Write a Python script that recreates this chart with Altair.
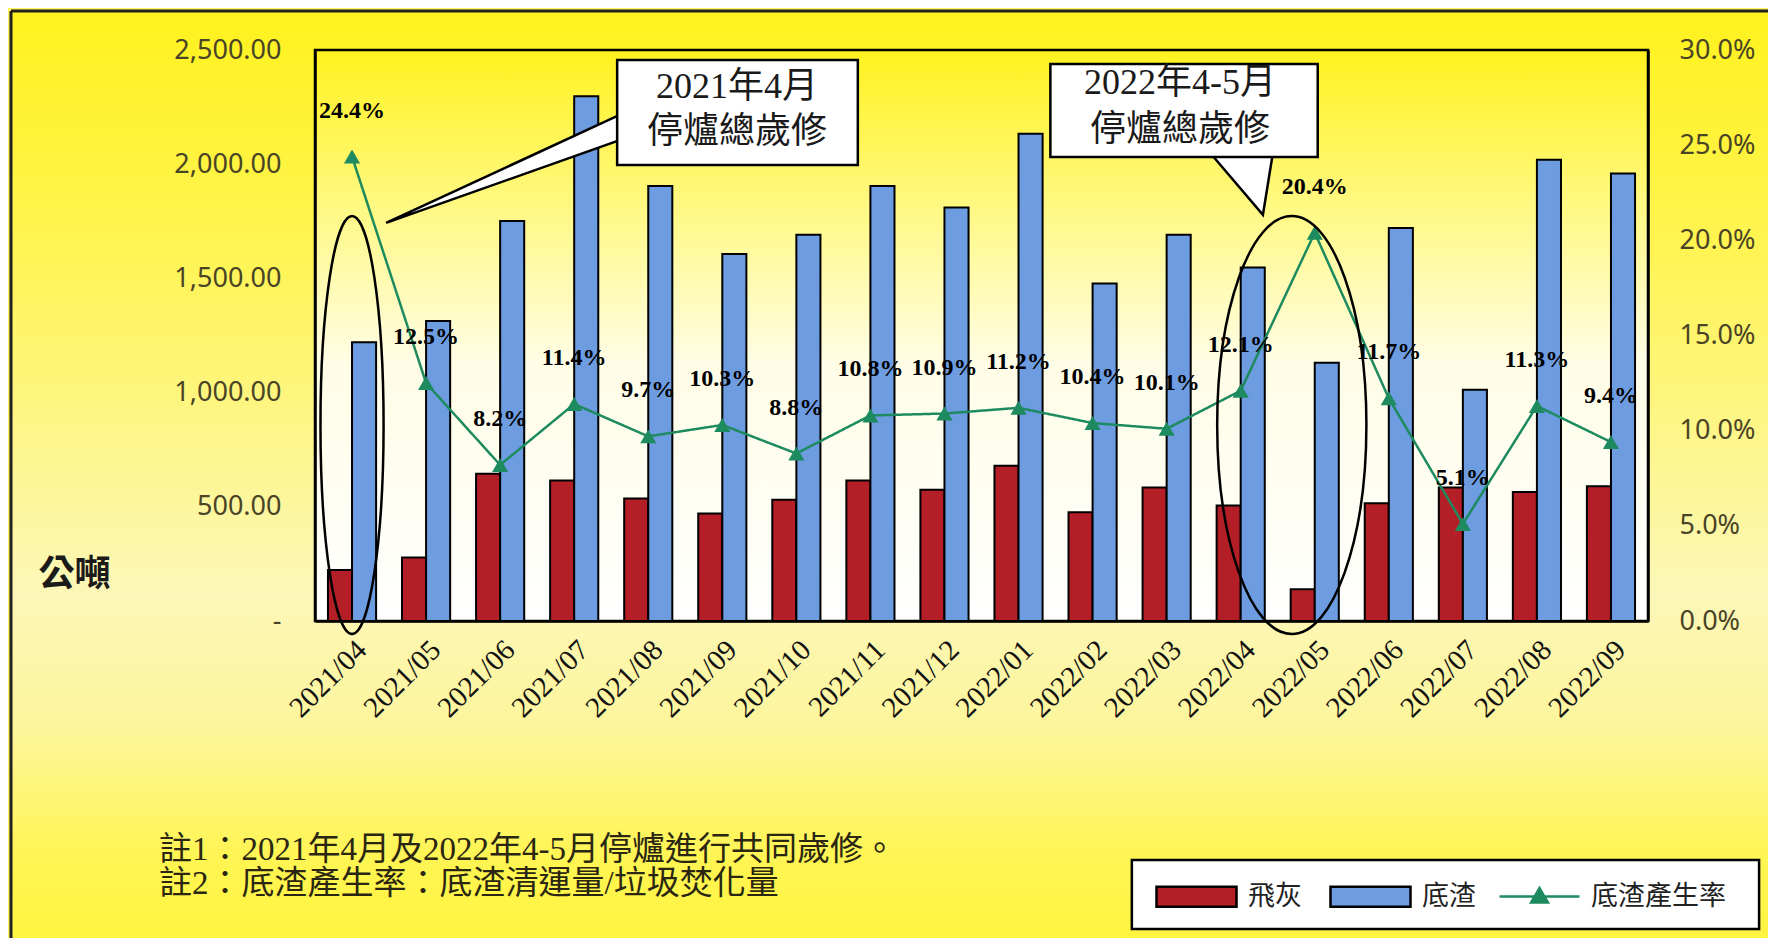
import altair as alt
import pandas as pd

# ---------------- data ----------------
months = ["2021/04", "2021/05", "2021/06", "2021/07", "2021/08", "2021/09",
          "2021/10", "2021/11", "2021/12", "2022/01", "2022/02", "2022/03",
          "2022/04", "2022/05", "2022/06", "2022/07", "2022/08", "2022/09"]
fly_ash = [223, 278, 645, 615, 536, 471, 531, 615, 575, 680, 476, 585,
           506, 139, 516, 585, 565, 590]
bottom_ash = [1220, 1314, 1751, 2297, 1905, 1607, 1691, 1905, 1810, 2133, 1478, 1691,
              1548, 1131, 1721, 1012, 2019, 1959]
rate = [24.4, 12.5, 8.2, 11.4, 9.7, 10.3, 8.8, 10.8, 10.9, 11.2, 10.4, 10.1,
        12.1, 20.4, 11.7, 5.1, 11.3, 9.4]

series_names = ["飛灰", "底渣"]
rate_name = "底渣產生率"
left_ticks = [0, 500, 1000, 1500, 2000, 2500]
right_ticks = [0, 5, 10, 15, 20, 25, 30]
y_title = "公噸"
callout_lines = ["2021年4月", "停爐總歲修", "2022年4-5月", "停爐總歲修"]
notes = ["註1：2021年4月及2022年4-5月停爐進行共同歲修。",
         "註2：底渣產生率：底渣清運量/垃圾焚化量"]

# ---------------- style ----------------
RED, BLUE, GREEN = "#b41f27", "#6d9ce0", "#1d8a5f"
W, H = 1333, 571
SERIF_CJK = "Liberation Serif, Noto Sans CJK TC"
AXIS_TXT = "#4a4426"
RECT_SYM = "M-2,-0.5H2V0.5H-2Z"
LINE_SYM = "M-2,0H2M0,-0.42L0.42,0.3L-0.42,0.3Z"

bars_df = pd.DataFrame({
    "month": months * 2,
    "series": [series_names[0]] * len(months) + [series_names[1]] * len(months),
    "value": fly_ash + bottom_ash,
})
rate_df = pd.DataFrame({"month": months, "rate": rate, "series": [rate_name] * len(months)})

x_enc = alt.X(
    "month:N", sort=months,
    scale=alt.Scale(paddingInner=0.35, paddingOuter=0.175),
    axis=alt.Axis(title=None, labelAngle=-45, labelFont="Liberation Serif",
                  labelFontSize=29, labelColor="#111111", labelPadding=14,
                  ticks=False, domainColor="black", domainWidth=2.5,
                  labelOverlap=False, zindex=1),
)

legend_common = dict(
    title=None, orient="none", legendY=810, direction="horizontal",
    symbolSize=1600, symbolStrokeWidth=2.5, symbolOffset=28, labelOffset=30,
    labelFont="Noto Sans CJK TC", labelFontSize=27, labelColor="#222222",
    columnPadding=19, padding=15,
)


def build(split_legend):
    if split_legend:
        color_scale = alt.Scale(domain=series_names, range=[RED, BLUE])
        bar_legend = alt.Legend(legendX=817, symbolType=RECT_SYM, symbolStrokeColor="black",
                                **legend_common)
    else:
        color_scale = alt.Scale(domain=series_names + [rate_name], range=[RED, BLUE, GREEN])
        bar_legend = alt.Legend(legendX=817, symbolType=RECT_SYM, **legend_common)

    bars = alt.Chart(bars_df).mark_bar(stroke="black", strokeWidth=2).encode(
        x=x_enc,
        xOffset=alt.XOffset("series:N", sort=series_names,
                            scale=alt.Scale(domain=series_names, paddingInner=0, paddingOuter=0)),
        y=alt.Y("value:Q", scale=alt.Scale(domain=[0, 2500], nice=False),
                axis=alt.Axis(orient="left", values=left_ticks,
                              labelExpr="datum.value == 0 ? '-\u00a0\u00a0\u00a0' : format(datum.value, ',.2f')",
                              labelFont="Noto Sans", labelFontSize=27, labelColor=AXIS_TXT,
                              labelPadding=34, ticks=False, grid=False,
                              domainColor="black", domainWidth=2.5, zindex=1,
                              title=y_title, titleAngle=0, titleX=-241, titleY=524,
                              titleFont="Noto Sans CJK TC", titleFontSize=36,
                              titleFontWeight="bold", titleColor="#1a1a1a",
                              titleAlign="center", titleBaseline="middle")),
        color=alt.Color("series:N", scale=color_scale, legend=bar_legend),
    )

    rate_base = alt.Chart(rate_df).encode(
        x=x_enc,
        y=alt.Y("rate:Q", scale=alt.Scale(domain=[0, 30], nice=False),
                axis=alt.Axis(orient="right", values=right_ticks,
                              labelExpr="format(datum.value / 100, '.1%')",
                              labelFont="Noto Sans", labelFontSize=27, labelColor=AXIS_TXT,
                              labelPadding=31, ticks=False, grid=False, zindex=1,
                              domainColor="black", domainWidth=2.5, title=None)),
    )
    if split_legend:
        line = rate_base.mark_line(strokeWidth=2.5, color=GREEN).encode(
            strokeDash=alt.StrokeDash(
                "series:N",
                scale=alt.Scale(domain=[rate_name], range=[[1, 0]]),
                legend=alt.Legend(legendX=1160, symbolType=LINE_SYM,
                                  symbolStrokeColor=GREEN, symbolFillColor=GREEN,
                                  **legend_common)))
        pts = rate_base.mark_point(shape="triangle-up", filled=True, size=260, opacity=1,
                                   color=GREEN)
    else:
        line = rate_base.mark_line(strokeWidth=2.5).encode(color=alt.Color("series:N"))
        pts = rate_base.mark_point(shape="triangle-up", filled=True, size=260, opacity=1).encode(
            color=alt.Color("series:N"))
    lbls = rate_base.transform_calculate(
        label="format(datum.rate, '.1f') + '%'"
    ).mark_text(dy=-46, font="Liberation Serif", fontSize=24, fontWeight="bold",
                color="black").encode(text="label:N")

    main = alt.layer(bars, alt.layer(line, pts, lbls)).resolve_scale(y="independent")

    # ---------- annotation layers (data units: x = band index 0..18, y = tonnes) ----------
    ux = alt.Scale(domain=[0, 18], nice=False, zero=False)
    uy = alt.Scale(domain=[0, 2500], nice=False, zero=False)

    def X(f):
        return alt.X(f, type="quantitative", scale=ux, axis=None)

    def Y(f):
        return alt.Y(f, type="quantitative", scale=uy, axis=None)

    bg_grad = {"gradient": "linear", "x1": 0, "y1": 0, "x2": 0, "y2": 1, "stops": [
        {"offset": 0.0, "color": "#fff21e"},
        {"offset": 0.25, "color": "#fff452"},
        {"offset": 0.62, "color": "#fcf7b8"},
        {"offset": 0.76, "color": "#fdf59c"},
        {"offset": 0.9, "color": "#fff553"},
        {"offset": 1.0, "color": "#fff43c"},
    ]}
    plot_grad = {"gradient": "linear", "x1": 0, "y1": 0, "x2": 0, "y2": 1, "stops": [
        {"offset": 0.0, "color": "#fff21e"},
        {"offset": 0.3, "color": "#fff98c"},
        {"offset": 0.55, "color": "#fffde6"},
        {"offset": 1.0, "color": "#ffffff"},
    ]}

    frame_df = pd.DataFrame({"x": [-4.105], "x2": [19.73], "y": [2671], "y2": [-1449]})
    plot_df = pd.DataFrame({"x": [0], "x2": [18], "y": [0], "y2": [2500]})

    bg = alt.Chart(frame_df).mark_rect(fill=bg_grad).encode(x=X("x"), x2="x2", y=Y("y"), y2="y2")
    frame_top = alt.Chart(frame_df).mark_rule(color="#222222", strokeWidth=3).encode(
        x=X("x"), x2="x2", y=Y("y"))
    frame_left = alt.Chart(frame_df).mark_rule(color="#222222", strokeWidth=3).encode(
        x=X("x"), y=Y("y"), y2="y2")
    plot_bg = alt.Chart(plot_df).mark_rect(fill=plot_grad, stroke="black", strokeWidth=2.5).encode(
        x=X("x"), x2="x2", y=Y("y"), y2="y2")

    annot_bg = alt.layer(bg, frame_top, frame_left, plot_bg)

    ell_df = pd.DataFrame({
        "x": [0.5, 13.19], "y": [858, 858],
        "shape": ["M0,-1A0.151,1 0 1,1 0,1A0.151,1 0 1,1 0,-1Z",
                  "M0,-1A0.357,1 0 1,1 0,1A0.357,1 0 1,1 0,-1Z"],
        "size": [174724, 174724],
    })
    ellipses = alt.Chart(ell_df).mark_point(filled=False, stroke="black", strokeWidth=2.5,
                                            opacity=1).encode(
        x=X("x"), y=Y("y"),
        shape=alt.Shape("shape:N", scale=None),
        size=alt.Size("size:Q", scale=None),
    )

    wedge1_df = pd.DataFrame({"x": [0.96, 4.2], "y": [1743, 2229], "y2": [1743, 2115]})
    wedge1 = alt.Chart(wedge1_df).mark_area(fill="white", stroke="black", strokeWidth=2.5,
                                            opacity=1).encode(x=X("x"), y=Y("y"), y2="y2")
    wedge2_df = pd.DataFrame({"y": [1778, 2060], "x": [12.80, 12.06], "x2": [12.80, 12.94]})
    wedge2 = alt.Chart(wedge2_df).mark_area(fill="white", stroke="black", strokeWidth=2.5,
                                            opacity=1, orient="horizontal").encode(
        y=Y("y"), x=X("x"), x2="x2")

    box_df = pd.DataFrame({"x": [4.08, 9.93], "x2": [7.33, 13.54],
                           "y": [2456, 2439], "y2": [1996, 2031]})
    boxes = alt.Chart(box_df).mark_rect(fill="white", stroke="black", strokeWidth=2.5).encode(
        x=X("x"), x2="x2", y=Y("y"), y2="y2")

    box_txt_df = pd.DataFrame({"x": [5.70, 5.70, 11.68, 11.68],
                               "y": [2338, 2141, 2355, 2150],
                               "t": callout_lines})
    box_txt = alt.Chart(box_txt_df).mark_text(font=SERIF_CJK, fontSize=36, color="#1a1a1a").encode(
        x=X("x"), y=Y("y"), text="t:N")

    notes_df = pd.DataFrame({"x": [-2.107, -2.107], "y": [-1003, -1151], "t": notes})
    notes_txt = alt.Chart(notes_df).mark_text(font=SERIF_CJK, fontSize=33, align="left",
                                              color="#2a2612").encode(
        x=X("x"), y=Y("y"), text="t:N")

    # white frame that holds the legend entries
    leg_box_df = pd.DataFrame({"x": [11.03], "x2": [19.50], "y": [-1046], "y2": [-1348]})
    leg_box = alt.Chart(leg_box_df).mark_rect(fill="white", stroke="black", strokeWidth=2.5).encode(
        x=X("x"), x2="x2", y=Y("y"), y2="y2")

    layers = [ellipses, wedge1, wedge2, boxes, box_txt, notes_txt]
    if split_legend:
        layers.append(leg_box)
    annot_fg = alt.layer(*layers)

    ch = alt.layer(annot_bg, main, annot_fg).resolve_scale(
        x="independent", y="independent"
    ).properties(
        width=W, height=H,
        autosize=alt.AutoSizeParams(type="none"),
        padding={"left": 307, "top": 42, "right": 120, "bottom": 317},
    ).configure(background="#fff45a").configure_view(strokeWidth=0)
    if not split_legend:
        ch = ch.configure_legend(strokeWidth=2.5, fillColor="white", strokeColor="black")
    ch.to_dict()
    return ch


try:
    chart = build(True)
except Exception:
    chart = build(False)

chart.save("out.html", embed_options={"renderer": "svg", "actions": False})
